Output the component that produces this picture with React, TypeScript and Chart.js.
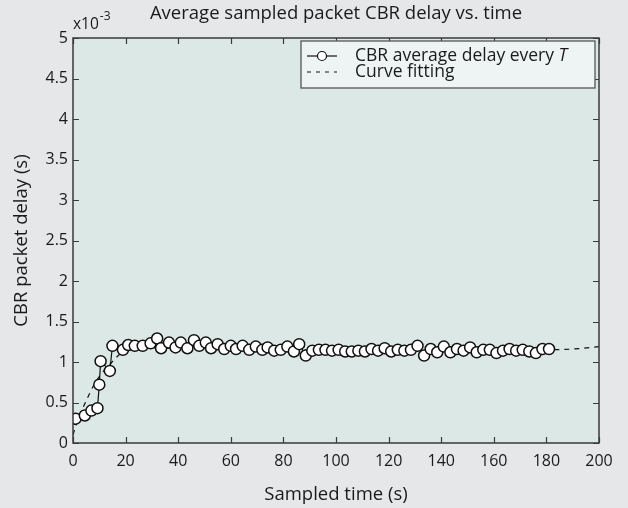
import React, { useEffect, useRef } from "react";
import { Chart, registerables } from "chart.js";

Chart.register(...registerables);

const FONT = "'Open Sans', 'DejaVu Sans', sans-serif";
const TEXT_COLOR = "#1a1a1a";
const PAGE_BG = "#e6e7e8";
const PLOT_BG = "#dbe8e5";
const LEGEND_BG = "#eef4f3";
const FRAME = "#3a3a3a";

const chartTitle = "Average sampled packet CBR delay vs. time";
const xTitle = "Sampled time (s)";
const yTitle = "CBR packet delay (s)";
const seriesLabel = "CBR average delay every ";
const seriesLabelItalic = "T";
const fitLabel = "Curve fitting";

const xTicks = [0, 20, 40, 60, 80, 100, 120, 140, 160, 180, 200];
const yTicks = [0, 0.5, 1, 1.5, 2, 2.5, 3, 3.5, 4, 4.5, 5];

// sampled times (s)
const sampleTimes = [
  1, 4.5, 7, 9.3, 10, 10.5, 14, 15, 19, 21, 23.5, 26.5, 29.5, 32, 33.5, 36.5,
  39, 41, 43.5, 46, 48, 50.5, 52.5, 55, 57.5, 60, 62, 64.5, 67, 69.5, 72, 74,
  76.5, 79, 81.5, 84, 86, 88.5, 91, 93.5, 96, 98.5, 101, 103.5, 106, 108.5,
  111, 113.5, 116, 118.5, 121, 123.5, 126, 128.5, 131, 133.5, 136, 138.5, 141,
  143.5, 146, 148.5, 151, 153.5, 156, 158.5, 161, 163.5, 166, 168.5, 171,
  173.5, 176, 178.5, 181,
];
// average delay (x10^-3 s)
const sampleDelays = [
  0.3, 0.34, 0.4, 0.43, 0.72, 1.01, 0.89, 1.2, 1.15, 1.21, 1.2, 1.2, 1.23,
  1.29, 1.17, 1.24, 1.18, 1.24, 1.17, 1.27, 1.2, 1.24, 1.17, 1.22, 1.16, 1.2,
  1.16, 1.2, 1.15, 1.19, 1.15, 1.18, 1.14, 1.15, 1.19, 1.13, 1.22, 1.08, 1.14,
  1.15, 1.15, 1.14, 1.15, 1.13, 1.13, 1.14, 1.13, 1.16, 1.14, 1.17, 1.13,
  1.15, 1.14, 1.15, 1.2, 1.08, 1.16, 1.12, 1.19, 1.12, 1.16, 1.14, 1.18, 1.12,
  1.15, 1.15, 1.11, 1.14, 1.16, 1.14, 1.15, 1.13, 1.11, 1.16, 1.16,
];

// curve fitting
const fitTimes = [0, 1, 2, 4, 6, 8, 10, 12, 14, 16, 18, 20, 25, 30, 40, 60, 80, 100, 120, 140, 160, 180, 190, 200];
const fitDelays = [0.1, 0.2, 0.3, 0.45, 0.59, 0.72, 0.82, 0.9, 0.97, 1.04, 1.1, 1.13, 1.16, 1.17, 1.17, 1.16, 1.15, 1.14, 1.14, 1.14, 1.14, 1.15, 1.16, 1.19];

const decorPlugin = {
  id: "decor",
  beforeDraw(chart: any) {
    const { ctx, chartArea: a } = chart;
    ctx.save();
    ctx.fillStyle = PAGE_BG;
    ctx.fillRect(0, 0, chart.width, chart.height);
    ctx.fillStyle = PLOT_BG;
    ctx.fillRect(a.left, a.top, a.right - a.left, a.bottom - a.top);
    ctx.restore();
  },
  afterDraw(chart: any) {
    const { ctx, chartArea: a, scales } = chart;
    const xs = scales.x;
    const ys = scales.y;
    ctx.save();
    // tick marks (inward)
    ctx.strokeStyle = FRAME;
    ctx.lineWidth = 1.2;
    const tl = 6;
    ctx.beginPath();
    xTicks.forEach((v) => {
      const px = Math.round(xs.getPixelForValue(v)) + 0.5;
      ctx.moveTo(px, a.bottom);
      ctx.lineTo(px, a.bottom - tl);
      ctx.moveTo(px, a.top);
      ctx.lineTo(px, a.top + tl);
    });
    yTicks.forEach((v) => {
      const py = Math.round(ys.getPixelForValue(v)) + 0.5;
      ctx.moveTo(a.left, py);
      ctx.lineTo(a.left + tl, py);
      ctx.moveTo(a.right, py);
      ctx.lineTo(a.right - tl, py);
    });
    ctx.stroke();

    // legend box
    const lw = 294;
    const lh = 47;
    const lx = a.right - 4 - lw;
    const ly = a.top + 3;
    ctx.fillStyle = LEGEND_BG;
    ctx.fillRect(lx, ly, lw, lh);
    ctx.strokeStyle = "#555";
    ctx.lineWidth = 1.3;
    ctx.strokeRect(lx, ly, lw, lh);

    const r1 = ly + 15;
    const r2 = ly + 31;
    ctx.strokeStyle = "#111";
    ctx.lineWidth = 1.2;
    ctx.beginPath();
    ctx.moveTo(lx + 6, r1);
    ctx.lineTo(lx + 36, r1);
    ctx.stroke();
    ctx.beginPath();
    ctx.arc(lx + 21, r1, 4.5, 0, Math.PI * 2);
    ctx.fillStyle = "#fff";
    ctx.fill();
    ctx.stroke();
    ctx.setLineDash([4, 5]);
    ctx.beginPath();
    ctx.moveTo(lx + 6, r2);
    ctx.lineTo(lx + 36, r2);
    ctx.stroke();
    ctx.setLineDash([]);

    ctx.fillStyle = TEXT_COLOR;
    ctx.textBaseline = "middle";
    ctx.textAlign = "left";
    ctx.font = `17.5px ${FONT}`;
    ctx.fillText(seriesLabel, lx + 54, r1);
    const w = ctx.measureText(seriesLabel).width;
    ctx.font = `italic 17.5px ${FONT}`;
    ctx.fillText(seriesLabelItalic, lx + 54 + w, r1);
    ctx.font = `17.5px ${FONT}`;
    ctx.fillText(fitLabel, lx + 54, r2);

    // frame
    ctx.strokeStyle = FRAME;
    ctx.lineWidth = 1.5;
    ctx.strokeRect(a.left, a.top, a.right - a.left, a.bottom - a.top);

    // title
    ctx.fillStyle = TEXT_COLOR;
    ctx.textAlign = "center";
    ctx.textBaseline = "middle";
    ctx.font = `18.5px ${FONT}`;
    ctx.fillText(chartTitle, (a.left + a.right) / 2, 14);

    // exponent
    ctx.textAlign = "left";
    ctx.textBaseline = "alphabetic";
    ctx.font = `15.5px ${FONT}`;
    ctx.fillText("x10", a.left, a.top - 9);
    const ew = ctx.measureText("x10").width;
    ctx.font = `12px ${FONT}`;
    ctx.fillText("-3", a.left + ew + 1, a.top - 18);
    ctx.restore();
  },
};

export default function App() {
  const ref = useRef<HTMLCanvasElement | null>(null);

  useEffect(() => {
    document.body.style.margin = "0";
    document.body.style.background = PAGE_BG;
    const canvas = ref.current;
    if (!canvas) return;
    const chart = new Chart(canvas, {
      type: "line",
      data: {
        datasets: [
          {
            label: "data",
            data: sampleTimes.map((t, i) => ({ x: t, y: sampleDelays[i] })),
            borderColor: "#111",
            borderWidth: 1.2,
            pointRadius: 5.5,
            pointBackgroundColor: "#ffffff",
            pointBorderColor: "#111",
            pointBorderWidth: 1.5,
            tension: 0,
            fill: false,
            order: 1,
          },
          {
            label: "fit",
            data: fitTimes.map((t, i) => ({ x: t, y: fitDelays[i] })),
            borderColor: "#111",
            borderWidth: 1.2,
            borderDash: [5, 5],
            pointRadius: 0,
            tension: 0.3,
            cubicInterpolationMode: "monotone",
            fill: false,
            order: 2,
          },
        ],
      },
      options: {
        responsive: false,
        devicePixelRatio: 1,
        animation: false,
        layout: { padding: { left: 0, right: 29, top: 38, bottom: 0 } },
        plugins: {
          legend: { display: false },
          tooltip: { enabled: false },
          title: { display: false },
        },
        scales: {
          x: {
            type: "linear",
            min: 0,
            max: 200,
            afterFit: (s: any) => {
              s.height = 65;
            },
            afterBuildTicks: (s: any) => {
              s.ticks = xTicks.map((v) => ({ value: v }));
            },
            grid: { display: false, drawTicks: false },
            border: { display: false },
            ticks: {
              color: TEXT_COLOR,
              font: { family: FONT, size: 16 },
              padding: 9,
              maxRotation: 0,
              callback: (v: any) => String(v),
            },
            title: {
              display: true,
              text: xTitle,
              color: TEXT_COLOR,
              font: { family: FONT, size: 18.5 },
              padding: { top: 0, bottom: 2 },
            },
          },
          y: {
            type: "linear",
            min: 0,
            max: 5,
            afterFit: (s: any) => {
              s.width = 73;
            },
            afterBuildTicks: (s: any) => {
              s.ticks = yTicks.map((v) => ({ value: v }));
            },
            grid: { display: false, drawTicks: false },
            border: { display: false },
            ticks: {
              color: TEXT_COLOR,
              font: { family: FONT, size: 16 },
              padding: 5,
              callback: (v: any) => String(v),
            },
            title: {
              display: true,
              text: yTitle,
              color: TEXT_COLOR,
              font: { family: FONT, size: 18.5 },
              padding: { top: 11, bottom: 0 },
            },
          },
        },
      },
      plugins: [decorPlugin],
    } as any);
    return () => chart.destroy();
  }, []);

  return (
    <div style={{ position: "fixed", left: 0, top: 0, width: 628, height: 508 }}>
      <canvas ref={ref} width={628} height={508} style={{ display: "block" }} />
    </div>
  );
}
